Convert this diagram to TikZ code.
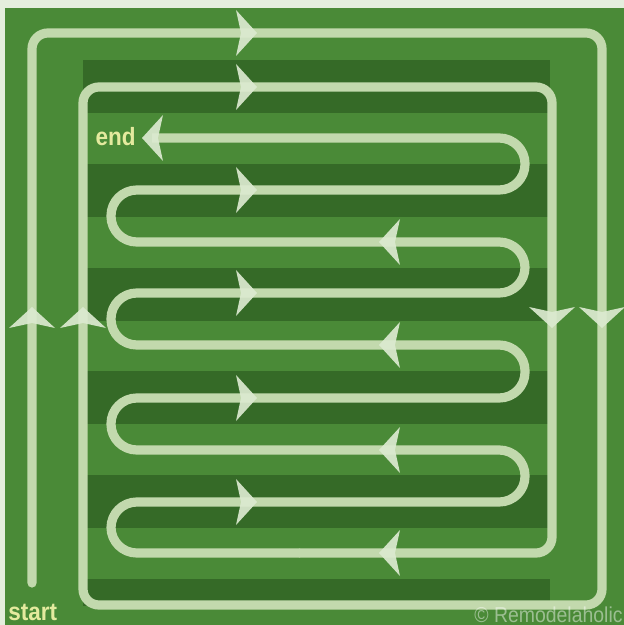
\documentclass[tikz,border=0pt]{standalone}
\usepackage{fontspec}
\newfontfamily\labelfont[FakeStretch=0.9]{Liberation Sans}
\definecolor{margincol}{HTML}{E4EEDD}
\definecolor{fieldcol}{HTML}{4A8A37}
\definecolor{bandcol}{HTML}{356A27}
\definecolor{trackcol}{HTML}{C2D9AD}
\definecolor{tipcol}{HTML}{DCEAD0}
\definecolor{wordcol}{HTML}{E4EA9E}
\tikzset{
  track/.style={draw=trackcol, line width=4.6pt},
  flowtip/.pic={\fill[tipcol, opacity=0.92] (0,0) -- (-21,23)
    .. controls (-18,11) .. (-16,0) .. controls (-18,-11) .. (-21,-23) -- cycle;},
  word/.style={text=wordcol, inner sep=0pt, font=\labelfont\bfseries\fontsize{12.5}{14}\selectfont}
}
\begin{document}
\begin{tikzpicture}[x=0.5pt, y=-0.5pt]
\useasboundingbox (0,0) rectangle (624,625);
% Lawn (light margin left and top)
\fill[margincol] (0,0) rectangle (624,625);
\fill[fieldcol] (5,8) rectangle (624,625);
% Mowing stripes
\foreach \k in {0,...,4}
  \fill[bandcol] (83,60+103.8*\k) rectangle (550,113+103.8*\k);
\fill[bandcol] (83,579) rectangle (550,606);
% Outer spiral: start -> two laps round the edge
\draw[track, line cap=round, rounded corners=8pt] (32,583) -- (32,33) -- (602,33) -- (602,605)
  -- (83,605) -- (83,87) -- (552,87) -- (552,553) -- (300,553);
% Back and forth rows up to the end
\draw[track, rounded corners=12.9pt] (300,553) -- (111,553) -- (111,502) -- (525,502) -- (525,450)
  -- (111,450) -- (111,398) -- (525,398) -- (525,345) -- (111,345) -- (111,293)
  -- (525,293) -- (525,242) -- (111,242) -- (111,190) -- (525,190) -- (525,138) -- (152,138);
% Direction arrows
\foreach \y in {33,87,190,293,398,502}
  \pic at (257,\y) {flowtip};
\foreach \y in {242,345,450,553}
  \pic[rotate=180] at (379,\y) {flowtip};
\pic[rotate=180] at (142,138) {flowtip};
\foreach \x in {32,83}
  \pic[rotate=90] at (\x,307) {flowtip};
\foreach \x in {552,602}
  \pic[rotate=-90] at (\x,328) {flowtip};
% Labels
\node[word, anchor=base east] (endlabel) at (136,146) {end};
\node[word, anchor=base west] (startlabel) at (8,620) {start};
\node[inner sep=0pt, anchor=base east, text=white, opacity=0.45,
  font=\labelfont\fontsize{10.8}{12}\selectfont] (credit) at (623,622) {© Remodelaholic};
\end{tikzpicture}
\end{document}
